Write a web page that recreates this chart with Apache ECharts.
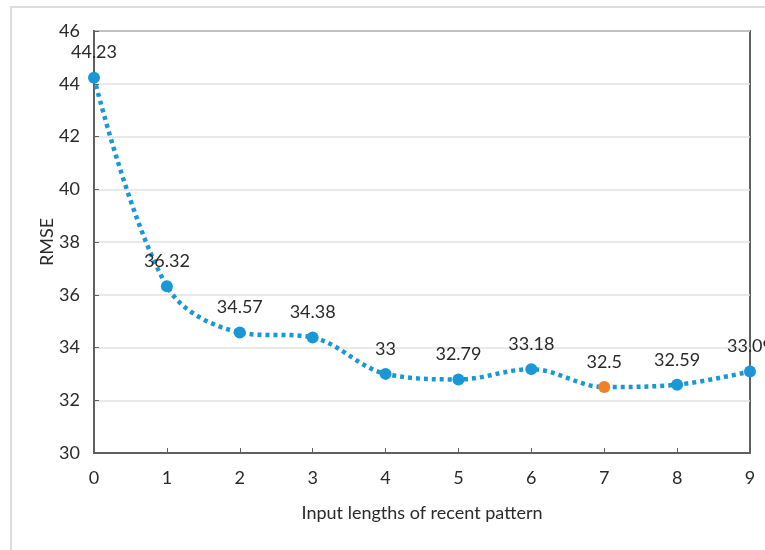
<!DOCTYPE html>
<html>
<head>
<meta charset="utf-8">
<script src="https://cdn.jsdelivr.net/npm/echarts@6/dist/echarts.min.js"></script>
<style>html,body{margin:0;padding:0;background:#fff}#c{width:765px;height:550px}</style>
</head>
<body>
<div id="c"></div>
<script>
var xValues = [0, 1, 2, 3, 4, 5, 6, 7, 8, 9];
var rmse = [44.23, 36.32, 34.57, 34.38, 33, 32.79, 33.18, 32.5, 32.59, 33.09];
var highlightIndex = 7;
var yTicks = [30, 32, 34, 36, 38, 40, 42, 44, 46];

var FONT = 'Lato, "Open Sans", sans-serif';
var BLUE = '#1a98d5';
var ORANGE = '#f47f26';

var data = xValues.map(function (x, i) {
  var item = { value: [x, rmse[i]] };
  if (i === highlightIndex) item.itemStyle = { color: ORANGE };
  return item;
});

var chart = echarts.init(document.getElementById('c'), null, { renderer: 'canvas' });
chart.setOption({
  animation: false,
  backgroundColor: '#fff',
  textStyle: { fontFamily: FONT },
  graphic: [{
    type: 'rect',
    shape: { x: 11, y: 7, width: 800, height: 600 },
    style: { fill: 'none', stroke: '#dcdcdc', lineWidth: 2 },
    silent: true, z: -10
  }],
  grid: {
    left: 94, right: 15, top: 31, bottom: 97,
    show: true, borderColor: '#606060', borderWidth: 2, backgroundColor: 'transparent'
  },
  xAxis: {
    type: 'value', min: 0, max: 9, interval: 1,
    name: 'Input lengths of recent pattern', nameLocation: 'middle', nameGap: 51,
    nameMoveOverlap: false,
    nameTextStyle: { fontFamily: FONT, fontSize: 18, color: '#2a2a2a' },
    axisLine: { show: true, lineStyle: { color: '#606060', width: 2 } },
    axisTick: { show: true, inside: true, length: 5, lineStyle: { color: '#606060', width: 1 } },
    axisLabel: { margin: 16, fontFamily: FONT, fontSize: 18, color: '#2a2a2a' },
    splitLine: { show: false }
  },
  yAxis: {
    type: 'value', min: yTicks[0], max: yTicks[yTicks.length - 1], interval: 2,
    name: 'RMSE', nameLocation: 'middle', nameGap: 38, nameRotate: 90,
    nameMoveOverlap: false,
    nameTextStyle: { fontFamily: FONT, fontSize: 18, color: '#2a2a2a' },
    axisLine: { show: true, lineStyle: { color: '#606060', width: 2 } },
    axisTick: { show: true, inside: true, length: 5, lineStyle: { color: '#606060', width: 1 } },
    axisLabel: { margin: 14, fontFamily: FONT, fontSize: 18, color: '#2a2a2a' },
    splitLine: { show: true, lineStyle: { color: '#e2e2e2', width: 1.5 } }
  },
  series: [{
    type: 'line',
    data: data,
    smooth: 0.35,
    symbol: 'circle',
    symbolSize: 12,
    itemStyle: { color: BLUE },
    lineStyle: { color: BLUE, width: 4.5, type: [4, 4], cap: 'butt' },
    label: {
      show: true, position: 'top', distance: 10,
      fontFamily: FONT, fontSize: 18, color: '#2a2a2a',
      formatter: function (p) { return String(p.value[1]); }
    },
    z: 5
  }]
});
</script>
</body>
</html>
